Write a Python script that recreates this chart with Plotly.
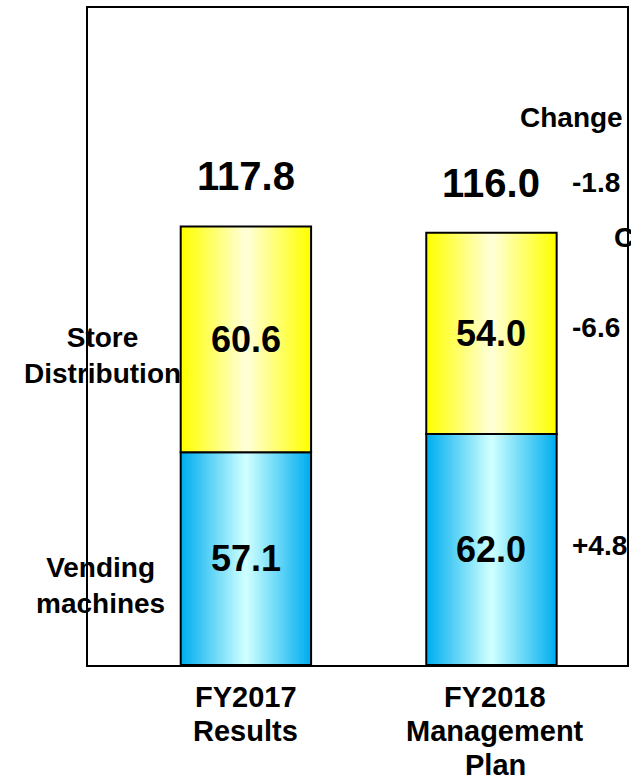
import plotly.graph_objects as go

# data
periods = [["FY2017", "Results"], ["FY2018", "Management", "Plan"]]
vending = [57.1, 62.0]
store = [60.6, 54.0]
totals = [117.8, 116.0]
change_labels = ["-1.8", "-6.6", "+4.8"]

FONT = "Arial, Liberation Sans, sans-serif"
BAR_W = 0.531
N_LAYERS = 28
PLOT_H = 657
PLOT_W = 541
FIG_W = 631
FIG_H = 779


def mix(c1, c2, t):
    return "rgb({},{},{})".format(*[round(a + (b - a) * t) for a, b in zip(c1, c2)])


def gradient_bars(fig, y, base, edge, center):
    """
    fakes a horizontal gradient by overlaying narrower and lighter bars
    """
    for k in range(N_LAYERS):
        t = k / (N_LAYERS - 1)
        fig.add_trace(
            go.Bar(
                x=[0, 1],
                y=y,
                base=base,
                width=BAR_W * (1 - k / N_LAYERS),
                marker=dict(color=mix(edge, center, t), line=dict(width=0)),
                hoverinfo="skip",
                showlegend=False,
            )
        )
    # outline
    fig.add_trace(
        go.Bar(
            x=[0, 1],
            y=y,
            base=base,
            width=BAR_W,
            marker=dict(color="rgba(0,0,0,0)", line=dict(color="black", width=2)),
            showlegend=False,
        )
    )


def px_label(text, px_x, px_y, size, xanchor="center"):
    # position given in pixels from the plot area's bottom-left corner
    return dict(xref="paper", yref="paper", x=px_x / PLOT_W, y=px_y / PLOT_H, xanchor=xanchor,
                yanchor="middle", text=f"<b>{text}</b>", showarrow=False, font=dict(size=size))


fig = go.Figure()
gradient_bars(fig, vending, [0, 0], (0, 174, 239), (205, 255, 255))
gradient_bars(fig, store, vending, (255, 255, 0), (255, 255, 215))

annotations = []
# segment values and totals
for i in range(2):
    annotations.append(dict(x=i, y=vending[i] / 2, text=f"<b>{vending[i]:.1f}</b>", showarrow=False,
                            font=dict(size=36)))
    annotations.append(dict(x=i, y=vending[i] + store[i] / 2, text=f"<b>{store[i]:.1f}</b>", showarrow=False,
                            font=dict(size=36)))
    annotations.append(dict(x=i, y=totals[i], yanchor="middle", yshift=50, text=f"<b>{totals[i]:.1f}</b>",
                            showarrow=False, font=dict(size=40)))

# category labels under the bars, one annotation per line for tighter spacing
for i, lines in enumerate(periods):
    for j, line in enumerate(lines):
        annotations.append(dict(x=i + 0.015 * i, xref="x", yref="paper", y=-(32 + 34 * j) / PLOT_H,
                                yanchor="middle", text=f"<b>{line}</b>", showarrow=False, font=dict(size=29)))

# change column
annotations.append(px_label("Change", 432, 665 - 117, 28, "left"))
for lbl, py in zip(change_labels, [182, 327, 545]):
    annotations.append(px_label(lbl, 484, 665 - py, 28, "left"))
annotations.append(px_label("C", 526, 665 - 237, 28, "left"))

# series labels on the left
annotations.append(px_label("Store<br>Distribution", 15, 665 - 355, 28))
annotations.append(px_label("Vending<br>machines", 13, 665 - 585, 28))

fig.update_layout(
    width=FIG_W,
    height=FIG_H,
    margin=dict(l=88, r=FIG_W - 88 - PLOT_W, t=8, b=FIG_H - 8 - PLOT_H),
    barmode="overlay",
    plot_bgcolor="white",
    paper_bgcolor="white",
    font=dict(family=FONT, color="black"),
    annotations=annotations,
    xaxis=dict(
        range=[-0.643, 1.552],
        showticklabels=False,
        showgrid=False,
        zeroline=False,
        showline=True,
        mirror=True,
        linecolor="black",
        linewidth=2,
        ticks="",
    ),
    yaxis=dict(
        range=[0, 176.3],
        showticklabels=False,
        showgrid=False,
        zeroline=False,
        showline=True,
        mirror=True,
        linecolor="black",
        linewidth=2,
        ticks="",
    ),
)

# drop the page's default body margin so the figure fills the window
fig.write_html(
    "out.html",
    config={"displayModeBar": False},
    post_script="document.body.style.margin = '0'; document.body.style.overflow = 'hidden';",
)
